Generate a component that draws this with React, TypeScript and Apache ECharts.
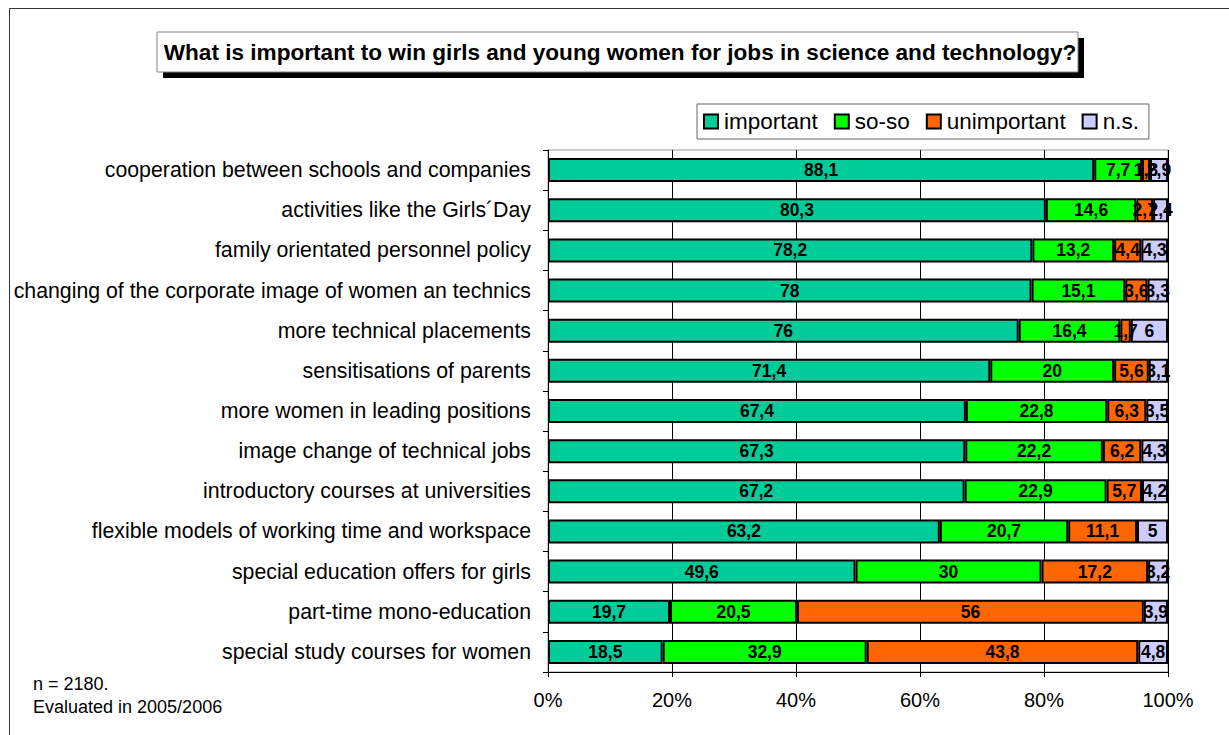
import React, { useEffect, useRef } from "react";
import * as echarts from "echarts";

const categories = [
  "cooperation between schools and companies",
  "activities like the Girls´Day",
  "family orientated personnel policy",
  "changing of the corporate image of women an technics",
  "more technical placements",
  "sensitisations of parents",
  "more women in leading positions",
  "image change of technical jobs",
  "introductory courses at universities",
  "flexible models of working time and workspace",
  "special education offers for girls",
  "part-time mono-education",
  "special study courses for women",
];
const important = [88.1, 80.3, 78.2, 78, 76, 71.4, 67.4, 67.3, 67.2, 63.2, 49.6, 19.7, 18.5];
const soso = [7.7, 14.6, 13.2, 15.1, 16.4, 20, 22.8, 22.2, 22.9, 20.7, 30, 20.5, 32.9];
const unimportant = [1.3, 2.7, 4.4, 3.6, 1.7, 5.6, 6.3, 6.2, 5.7, 11.1, 17.2, 56, 43.8];
const ns = [2.9, 2.4, 4.3, 3.3, 6, 3.1, 3.5, 4.3, 4.2, 5, 3.2, 3.9, 4.8];
const seriesNames = ["important", "so-so", "unimportant", "n.s."];
const seriesColors = ["#00CC99", "#00FF00", "#FF6600", "#CCCCFF"];
const xTicks = [0, 20, 40, 60, 80, 100];

const title = "What is important to win girls and young women for jobs in science and technology?";
const footnote1 = "n = 2180.";
const footnote2 = "Evaluated in 2005/2006";

const FONT = "'Liberation Sans', Arial, sans-serif";

export default function App() {
  const ref = useRef<HTMLDivElement>(null);
  useEffect(() => {
    document.body.style.margin = "0";
    if (!ref.current) return;
    const chart = echarts.init(ref.current, undefined, { renderer: "svg" });
    const raws = [important, soso, unimportant, ns];
    const totals = categories.map((_, i) => raws.reduce((s, a) => s + a[i], 0));
    const series = raws.map((arr, si) => ({
      name: seriesNames[si],
      type: "bar",
      stack: "total",
      barWidth: 24,
      data: arr.map((v, i) => ({ value: (v / totals[i]) * 100, raw: v })),
      itemStyle: { color: seriesColors[si], borderColor: "#000", borderWidth: 2 },
      label: {
        show: true,
        position: "inside",
        color: "#000",
        fontWeight: "bold",
        fontSize: 17.5,
        fontFamily: FONT,
        formatter: (p: any) => String(p.data.raw).replace(".", ","),
      },
    }));
    chart.setOption({
      animation: false,
      backgroundColor: "#fff",
      textStyle: { fontFamily: FONT },
      grid: {
        left: 548,
        right: 61,
        top: 150,
        bottom: 63,
        show: true,
        borderColor: "#999",
        borderWidth: 1,
        backgroundColor: "transparent",
      },
      legend: {
        left: 697,
        top: 104,
        padding: [6, 10, 6, 6],
        itemWidth: 14,
        itemHeight: 14,
        itemGap: 16,
        borderColor: "#666",
        borderWidth: 1,
        backgroundColor: "#fff",
        icon: "rect",
        textStyle: { fontSize: 22.5, color: "#000", fontFamily: FONT, padding: [0, 0, 0, 1] },
        data: seriesNames,
      },
      xAxis: {
        type: "value",
        min: xTicks[0],
        max: xTicks[xTicks.length - 1],
        interval: 20,
        axisLine: { show: true, lineStyle: { color: "#000", width: 1 } },
        axisTick: { show: true, length: 5, lineStyle: { color: "#000" } },
        splitLine: { show: true, lineStyle: { color: "#000", width: 1 } },
        axisLabel: { formatter: "{value}%", fontSize: 20, color: "#000", margin: 18, fontFamily: FONT },
      },
      yAxis: {
        type: "category",
        data: categories,
        inverse: true,
        axisLine: { show: true, lineStyle: { color: "#000", width: 1 } },
        axisTick: { show: true, length: 5, lineStyle: { color: "#000" } },
        axisLabel: { interval: 0, fontSize: 21.3, color: "#000", margin: 17, fontFamily: FONT },
      },
      series,
      graphic: [
        {
          type: "rect",
          left: 7,
          top: 6,
          shape: { width: 1300, height: 800 },
          style: { fill: "none", stroke: "#333", lineWidth: 1 },
          silent: true,
          z: -10,
        },
        {
          type: "rect",
          x: 163,
          y: 38,
          shape: { width: 921, height: 40 },
          style: { fill: "#000" },
          z: 10,
        },
        {
          type: "rect",
          x: 157,
          y: 32,
          shape: { width: 921, height: 40 },
          style: { fill: "#fff", stroke: "#808080", lineWidth: 1 },
          z: 11,
        },
        {
          type: "text",
          x: 620,
          y: 52,
          style: {
            text: title,
            fontSize: 22.6,
            fontWeight: "bold",
            fontFamily: FONT,
            fill: "#000",
            align: "center",
            verticalAlign: "middle",
          },
          z: 12,
        },
        {
          type: "text",
          x: 33,
          y: 684,
          style: { text: footnote1, fontSize: 18, fontFamily: FONT, fill: "#000", verticalAlign: "middle" },
        },
        {
          type: "text",
          x: 33,
          y: 707,
          style: { text: footnote2, fontSize: 18, fontFamily: FONT, fill: "#000", verticalAlign: "middle" },
        },
      ],
    });
    return () => chart.dispose();
  }, []);
  return <div ref={ref} style={{ width: 1229, height: 735 }} />;
}
